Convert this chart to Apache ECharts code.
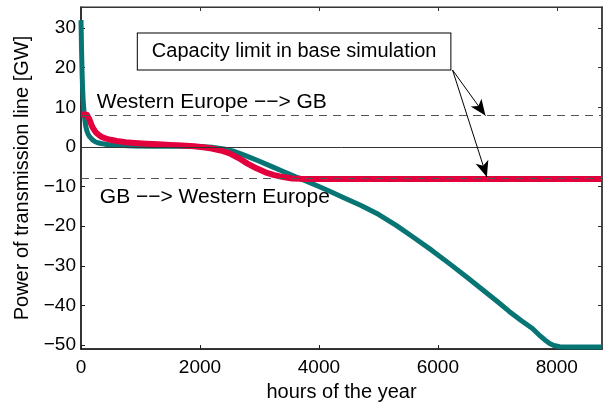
<!DOCTYPE html>
<html>
<head>
<meta charset="utf-8">
<script src="https://cdn.jsdelivr.net/npm/echarts@6/dist/echarts.min.js"></script>
<style>
  html, body { margin: 0; padding: 0; background: #fff; }
  #chart { width: 605px; height: 407px; }
</style>
</head>
<body>
<div id="chart"></div>
<script>
// Sorted hourly power flow on the GB – Western Europe interconnector (GW)
const tealHours  = [0, 5, 10, 18, 25, 35, 50, 65, 80, 100, 120, 145, 170, 200, 240, 280, 340, 400, 500, 600, 700, 900, 1200, 1600, 2000, 2200, 2400, 2550, 2700, 2850, 3000, 3200, 3400, 3600, 3800, 4000, 4200, 4400, 4700, 5000, 5300, 5600, 5900, 6200, 6500, 6800, 7000, 7200, 7400, 7590, 7700, 7800, 7880, 7950, 8050, 8200, 8760];
const tealValues = [32, 28, 24, 19, 15.5, 12, 9, 6.8, 5.2, 4.0, 3.2, 2.6, 2.1, 1.7, 1.3, 1.05, 0.85, 0.7, 0.5, 0.42, 0.35, 0.25, 0.2, 0.15, 0.1, -0.1, -0.5, -1.0, -1.8, -2.7, -3.6, -4.9, -6.2, -7.5, -8.7, -10.0, -11.3, -12.7, -14.7, -17.0, -19.8, -22.9, -26.1, -29.5, -33.0, -36.6, -39.0, -41.5, -43.8, -45.8, -47.4, -48.7, -49.6, -50.1, -50.4, -50.5, -50.5];

const redHours  = [0, 60, 100, 120, 140, 160, 180, 200, 230, 260, 300, 350, 420, 500, 600, 750, 900, 1100, 1300, 1500, 1700, 1900, 2050, 2200, 2350, 2500, 2650, 2800, 2950, 3100, 3250, 3400, 3550, 3700, 3850, 8760];
const redValues = [8.2, 8.2, 8.1, 7.7, 7.0, 6.2, 5.4, 4.8, 4.1, 3.5, 3.0, 2.5, 2.1, 1.8, 1.5, 1.2, 1.0, 0.8, 0.65, 0.5, 0.35, 0.15, -0.1, -0.4, -0.9, -1.6, -2.8, -4.2, -5.4, -6.4, -7.1, -7.6, -7.95, -8.05, -8.1, -8.1];

// Capacity limits in the base simulation (GW)
const capacityLimits = [8, -8];

const xTicks = [0, 2000, 4000, 6000, 8000];
const yTicks = [-50, -40, -30, -20, -10, 0, 10, 20, 30];

const X_MIN = 0, X_MAX = 8760, Y_MIN = -51, Y_MAX = 35.3;

const FONT = 'Liberation Sans, Arial, Helvetica, sans-serif';
const minus = v => String(v).replace('-', '\u2212');
const plain = v => String(v);

const pairs = (xs, ys) => xs.map((x, i) => [x, ys[i]]);

const chart = echarts.init(document.getElementById('chart'), null, { renderer: 'canvas' });

const axisLineStyle = { color: '#1a1a1a', width: 1.5 };

chart.setOption({
  animation: false,
  backgroundColor: '#fff',
  grid: { left: 81, right: 3, top: 7, bottom: 53, containLabel: false,
          show: true, borderColor: '#333', borderWidth: 1.2, backgroundColor: 'transparent' },
  xAxis: [
    {
      type: 'value', min: X_MIN, max: X_MAX, interval: 2000,
      position: 'bottom',
      name: 'hours of the year', nameLocation: 'middle', nameGap: 27,
      nameTextStyle: { fontFamily: FONT, fontSize: 20, color: '#000' },
      axisLine: { show: true, onZero: false, lineStyle: axisLineStyle },
      axisTick: { show: true, inside: true, length: 4, customValues: xTicks, lineStyle: { color: '#1a1a1a' } },
      axisLabel: { customValues: xTicks, formatter: plain, fontFamily: FONT, fontSize: 19, color: '#000', margin: 9 },
      splitLine: { show: false }
    },
    {
      type: 'value', min: X_MIN, max: X_MAX, position: 'top',
      axisLine: { show: true, onZero: false, lineStyle: { color: '#333', width: 1.2 } },
      axisTick: { show: true, inside: true, length: 4, customValues: xTicks, lineStyle: { color: '#333' } },
      axisLabel: { show: false },
      splitLine: { show: false }
    }
  ],
  yAxis: [
    {
      type: 'value', min: Y_MIN, max: Y_MAX,
      position: 'left',
      name: 'Power of transmission line [GW]', nameLocation: 'middle', nameGap: 45,
      nameTextStyle: { fontFamily: FONT, fontSize: 20, color: '#000' },
      axisLine: { show: true, onZero: false, lineStyle: axisLineStyle },
      axisTick: { show: true, inside: true, length: 4, customValues: yTicks, lineStyle: { color: '#1a1a1a' } },
      axisLabel: { customValues: yTicks, formatter: minus, fontFamily: FONT, fontSize: 19, color: '#000', margin: 5 },
      splitLine: { show: false }
    },
    {
      type: 'value', min: Y_MIN, max: Y_MAX, position: 'right',
      axisLine: { show: true, onZero: false, lineStyle: { color: '#333', width: 1.5 } },
      axisTick: { show: true, inside: true, length: 4, customValues: yTicks, lineStyle: { color: '#333' } },
      axisLabel: { show: false },
      splitLine: { show: false }
    }
  ],
  series: [
    {
      name: 'Flow (extended)', type: 'line', data: pairs(tealHours, tealValues),
      showSymbol: false, smooth: false, clip: false,
      lineStyle: { color: '#077574', width: 5, join: 'round' }, z: 2
    },
    {
      name: 'Flow (base)', type: 'line', data: pairs(redHours, redValues),
      showSymbol: false, smooth: false, clip: false,
      lineStyle: { color: '#e2003d', width: 6, join: 'round' }, z: 3
    },
    {
      // reference lines, labels and annotation
      name: 'annotations', type: 'line', data: [], z: 4,
      markLine: {
        silent: true, symbol: ['none', 'none'], precision: 3,
        label: { show: false },
        data: [
          { yAxis: 0, lineStyle: { color: '#333', width: 1, type: 'solid' } },
          ...capacityLimits.map(v => ({ yAxis: v, lineStyle: { color: '#555', width: 1, type: [8, 6] } })),
          [
            { coord: [6247, 19.4], symbol: 'none', lineStyle: { color: '#000', width: 1, type: 'solid' } },
            { coord: [6800, 7.9], symbol: 'arrow', symbolSize: [10, 16] }
          ],
          [
            { coord: [6247, 19.4], symbol: 'none', lineStyle: { color: '#000', width: 1, type: 'solid' } },
            { coord: [6824, -7.6], symbol: 'arrow', symbolSize: [10, 16] }
          ]
        ]
      },
      markPoint: {
        silent: true, symbol: 'circle', symbolSize: 0,
        data: [
          {
            coord: [264, 11.4],
            label: { show: true, position: [0, 0], align: 'left', verticalAlign: 'middle',
              formatter: 'Western Europe \u2212\u2212> GB', fontFamily: FONT, fontSize: 21, color: '#000' }
          },
          {
            coord: [316, -12.7],
            label: { show: true, position: [0, 0], align: 'left', verticalAlign: 'middle',
              formatter: 'GB \u2212\u2212> Western Europe', fontFamily: FONT, fontSize: 21, color: '#000' }
          },
          {
            coord: [3583, 24.1],
            label: { show: true, position: [0, 0], align: 'center', verticalAlign: 'middle',
              formatter: 'Capacity limit in base simulation', fontFamily: FONT, fontSize: 20, color: '#000',
              backgroundColor: '#fff', borderColor: '#000', borderWidth: 1, padding: [8, 14] }
          }
        ]
      }
    }
  ]
});
</script>
</body>
</html>
